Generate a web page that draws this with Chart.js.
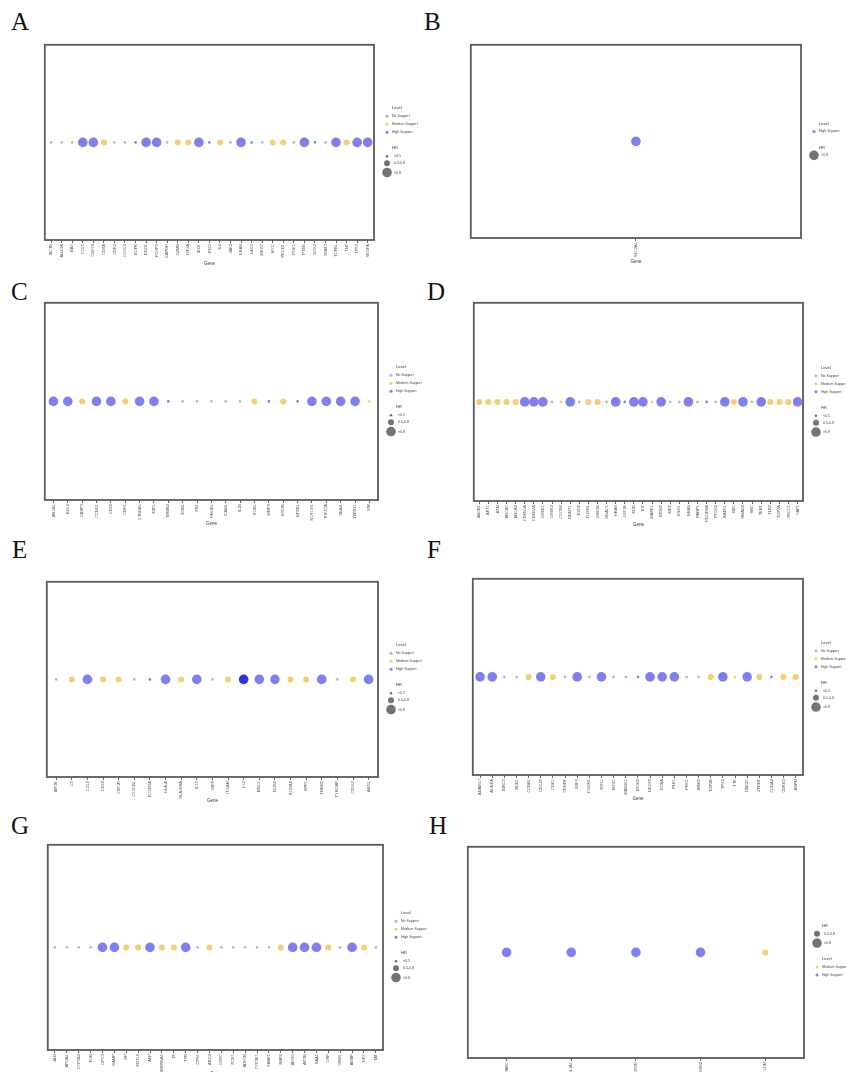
<!DOCTYPE html>
<html>
<head>
<meta charset="utf-8">
<script src="https://cdn.jsdelivr.net/npm/chart.js@4.4.1/dist/chart.umd.min.js"></script>
<style>
  body { margin: 0; background: #fff; width: 846px; height: 1072px; position: relative; overflow: hidden; }
  .tag { position: absolute; font-family: "Liberation Serif", serif; font-size: 25px; line-height: 1; color: #111; }
</style>
</head>
<body>
<div class="tag" style="left:11px;top:9px">A</div>
<div class="tag" style="left:424px;top:9px">B</div>
<div class="tag" style="left:11px;top:279px">C</div>
<div class="tag" style="left:427px;top:279px">D</div>
<div class="tag" style="left:12px;top:537px">E</div>
<div class="tag" style="left:427px;top:537px">F</div>
<div class="tag" style="left:11px;top:813px">G</div>
<div class="tag" style="left:429px;top:813px">H</div>
<script>
// level / HR keys
const levelNames = { N: "No Support", M: "Medium Support", H: "High Support" };
const levelColors = { N: "rgba(168,168,190,0.85)", M: "rgba(242,192,80,0.8)", H: "rgba(104,104,236,0.85)", D: "rgba(40,40,226,0.95)" };
const hrLabels = ["<0.5", "0.5-0.8", ">0.8"];
const hrRadius = [1.3, 3, 4.8];

// panel A
const genesA = ["ACTB","ALDOA","BAX","CCL5","CD274","CD8A","CDK4","CXCL9","EGFR","ENO1","FOXP3","GAPDH","GZMB","HIF1A","IDO1","IFNG","IL6","JAK2","KRAS","LAG3","MKI67","MYC","PDCD1","PGK1","PTEN","SOX2","STAT3","TGFB1","TNF","TP53","VEGFA"];
const levelsA = ["N","N","N","H","H","M","N","N","H","H","H","N","M","M","H","H","M","N","H","H","N","M","M","N","H","H","N","H","M","H","H"];
const sizesA = [1,1,1,3,3,2,1,1,1,3,3,1,2,2,3,1,2,1,3,1,1,2,2,1,3,1,1,3,2,3,3];

// panel B
const genesB = ["SLC2A1"];
const levelsB = ["H"];
const sizesB = [3];

// panel C
const genesC = ["ANXA1","BCL2","CASP3","CCND1","CD44","CDH1","CTNNB1","E2F1","ERBB2","ESR1","FN1","HMGB1","ICAM1","IL1B","ITGB1","MMP9","MTOR","NFKB1","NOTCH1","PIK3CA","SNAI1","TWIST1","VIM"];
const levelsC = ["H","H","M","H","H","M","H","H","H","N","N","N","N","N","M","H","M","H","H","H","H","H","M"];
const sizesC = [3,3,2,3,3,2,3,3,1,1,1,1,1,1,2,1,2,1,3,3,3,3,1];

// panel D
const genesD = ["ABCB1","AKT1","ATM","BRCA1","BRCA2","CDKN1A","CDKN2A","CHEK1","CHEK2","CXCR4","DNMT1","EZH2","FGFR1","GSK3B","HDAC1","HRAS","IGF1R","KDR","KIT","MAPK1","MDM2","MET","MLH1","NRAS","PARP1","PDGFRA","PTGS2","RAD51","RB1","SMAD4","SRC","TERT","TLR4","TOP2A","XRCC1","YAP1"];
const levelsD = ["M","M","M","M","M","H","H","H","N","M","H","N","M","M","N","H","H","H","H","M","H","N","N","H","N","H","N","H","M","H","N","H","M","M","M","H"];
const sizesD = [2,2,2,2,2,3,3,3,1,1,3,1,2,2,1,3,1,3,3,1,3,1,1,3,1,1,1,3,2,3,1,3,2,2,2,3];

// panel E
const genesE = ["APOE","C3","CCL2","CD68","CSF1R","CX3CR1","FCGR3A","HLA-A","HLA-DRA","IL10","IRF8","ITGAM","LYZ","MRC1","NOS2","S100A8","SPP1","TREM2","TYROBP","CD163","ARG1"];
const levelsE = ["N","M","H","M","M","N","H","H","M","H","N","M","D","H","H","M","M","H","N","M","H"];
const sizesE = [1,2,3,2,2,1,1,3,2,3,1,2,3,3,3,2,2,3,1,2,3];

// panel F
const genesF = ["ADAM17","AURKA","BIRC5","BUB1","CCNB1","CDC20","CDK1","CENPF","E2F3","FOXM1","KIF11","KIF2C","MAD2L1","MCM2","NDC80","PCNA","PLK1","PRC1","RRM2","TOP2B","TPX2","TTK","UBE2C","ZWINT","CCNA2","CDKN3","ASPM"];
const levelsF = ["H","H","N","N","M","H","M","N","H","N","H","N","N","H","H","H","H","N","N","M","H","M","H","M","H","M","M"];
const sizesF = [3,3,1,1,2,3,2,1,3,1,3,1,1,1,3,3,3,1,1,2,3,1,3,2,1,2,2];

// panel G
const genesG = ["ALB","APOA1","CYP3A4","FGB","GPC3","HAMP","HP","KRT19","AFP","SERPINA1","TF","TTR","CPS1","ARG2","G6PC","PCK1","ADH1B","CYP2E1","FABP1","RBP4","AHSG","APOB","SAA1","CRP","ORM1","AMBP","HPX","TAT"];
const levelsG = ["N","N","N","N","H","H","M","M","H","M","M","H","N","M","N","N","N","N","N","M","H","H","H","M","N","H","M","N"];
const sizesG = [1,1,1,1,3,3,2,2,3,2,2,3,1,2,1,1,1,1,1,2,3,3,3,2,1,3,2,1];

// panel H
const genesH = ["SPARC","COL1A1","POSTN","THBS2","LUM"];
const levelsH = ["H","H","H","H","M"];
const sizesH = [3,3,3,3,2];

Chart.defaults.font.family = "'Liberation Sans', Arial, sans-serif";

// box around the plot area
const frame = {
  id: "frame",
  beforeDatasetsDraw(chart) {
    const { ctx, chartArea: a } = chart;
    ctx.save();
    ctx.strokeStyle = "#5a5a5a";
    ctx.lineWidth = 1.8;
    ctx.strokeRect(a.left, a.top, a.right - a.left, a.bottom - a.top);
    ctx.restore();
  }
};

// ggplot-like legend on the right side
const panelLegend = {
  id: "panelLegend",
  afterDraw(chart, args, opts) {
    const { ctx, chartArea: a } = chart;
    const rows = [];
    let y = 0;
    opts.sections.forEach((sec, k) => {
      if (k > 0) y += 16;
      rows.push({ type: "title", text: sec.title, y });
      y += 8;
      let prevR = 0;
      sec.keys.forEach((key, j) => {
        if (sec.kind === "level") {
          if (j) y += 8;
          rows.push({ type: "level", key, y });
        } else {
          const r = hrRadius[key];
          if (j) y += Math.max(7, prevR + r + 1.5);
          rows.push({ type: "size", r, text: hrLabels[key], y });
          prevR = r;
        }
      });
    });
    const y0 = (a.top + a.bottom) / 2 - y / 2 - 2;
    const kx = a.right + 13, tx = a.right + 18;
    ctx.save();
    ctx.textBaseline = "middle";
    rows.forEach(row => {
      const yy = y0 + row.y;
      if (row.type === "title") {
        ctx.fillStyle = "#333";
        ctx.font = "4px 'Liberation Sans', Arial, sans-serif";
        ctx.fillText(row.text, tx, yy);
      } else if (row.type === "level") {
        ctx.fillStyle = levelColors[row.key];
        ctx.beginPath(); ctx.arc(kx, yy, 1.5, 0, Math.PI * 2); ctx.fill();
        ctx.fillStyle = "#444";
        ctx.font = "3.5px 'Liberation Sans', Arial, sans-serif";
        ctx.fillText(levelNames[row.key], tx, yy);
      } else {
        ctx.fillStyle = "rgba(90,90,90,0.85)";
        ctx.beginPath(); ctx.arc(kx, yy, row.r, 0, Math.PI * 2); ctx.fill();
        ctx.fillStyle = "#444";
        ctx.font = "3.5px 'Liberation Sans', Arial, sans-serif";
        ctx.fillText(row.text, tx + 2, yy);
      }
    });
    ctx.restore();
  }
};

const fullLegend = [
  { title: "Level", kind: "level", keys: ["N", "M", "H"] },
  { title: "HR", kind: "size", keys: [0, 1, 2] }
];

function panel(box, genes, levels, sizes, sections) {
  const pad = 4, legendW = 80, axisH = 26;
  const cv = document.createElement("canvas");
  const w = box.r - box.l + 2 * pad + legendW;
  const h = box.b - box.t + pad + axisH;
  cv.width = w; cv.height = h;
  cv.style.cssText = `position:absolute;left:${box.l - pad}px;top:${box.t - pad}px;width:${w}px;height:${h}px`;
  document.body.appendChild(cv);
  new Chart(cv, {
    type: "scatter",
    data: {
      datasets: [{
        data: genes.map((g, i) => ({ x: i, y: 1 })),
        pointRadius: sizes.map(s => hrRadius[s - 1]),
        pointHoverRadius: sizes.map(s => hrRadius[s - 1]),
        pointBackgroundColor: levels.map(l => levelColors[l]),
        pointBorderWidth: 0
      }]
    },
    options: {
      responsive: false,
      animation: false,
      events: [],
      layout: { padding: { left: pad, top: pad, right: pad + legendW, bottom: 0 } },
      plugins: { legend: { display: false }, tooltip: { enabled: false }, panelLegend: { sections } },
      scales: {
        x: {
          type: "linear",
          min: -0.6,
          max: genes.length - 0.4,
          afterBuildTicks: s => { s.ticks = genes.map((g, i) => ({ value: i })); },
          afterFit: s => { s.height = axisH; },
          ticks: { autoSkip: false, minRotation: 90, maxRotation: 90, font: { size: 4 }, color: "#555", padding: 1, callback: v => genes[v] },
          grid: { drawOnChartArea: false, tickLength: 3, color: "#666" },
          border: { display: false },
          title: { display: true, text: "Gene", font: { size: 4.5 }, color: "#333", padding: 0 }
        },
        y: { display: false, min: 0, max: 2 }
      }
    },
    plugins: [frame, panelLegend]
  });
}

panel({ l: 44, t: 44, r: 374, b: 240 }, genesA, levelsA, sizesA, fullLegend);
panel({ l: 470, t: 44, r: 801, b: 238 }, genesB, levelsB, sizesB, [
  { title: "Level", kind: "level", keys: ["H"] },
  { title: "HR", kind: "size", keys: [2] }
]);
panel({ l: 44, t: 302, r: 378, b: 500 }, genesC, levelsC, sizesC, fullLegend);
panel({ l: 473, t: 302, r: 803, b: 501 }, genesD, levelsD, sizesD, fullLegend);
panel({ l: 46, t: 581, r: 378, b: 777 }, genesE, levelsE, sizesE, fullLegend);
panel({ l: 472, t: 578, r: 803, b: 775 }, genesF, levelsF, sizesF, fullLegend);
panel({ l: 47, t: 844, r: 383, b: 1050 }, genesG, levelsG, sizesG, fullLegend);
panel({ l: 467, t: 846, r: 804, b: 1058 }, genesH, levelsH, sizesH, [
  { title: "HR", kind: "size", keys: [1, 2] },
  { title: "Level", kind: "level", keys: ["M", "H"] }
]);
</script>
</body>
</html>
